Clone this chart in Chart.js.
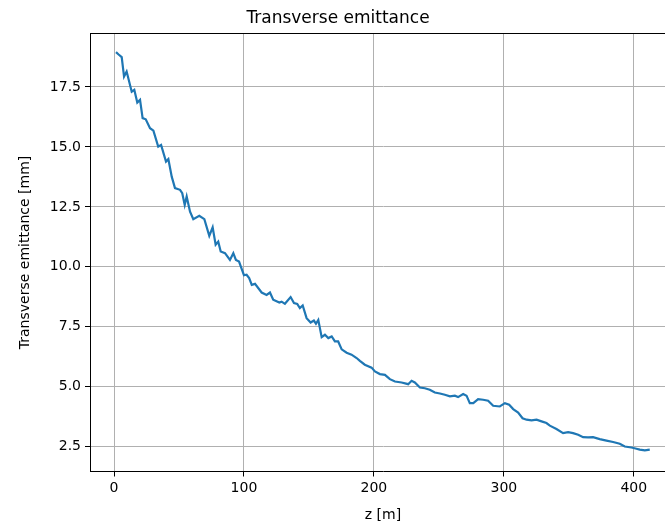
<!DOCTYPE html>
<html><head><meta charset="utf-8">
<script src="https://cdn.jsdelivr.net/npm/chart.js@4/dist/chart.umd.min.js"></script>
<style>html,body{margin:0;padding:0;overflow:hidden;background:#fff;width:665px;height:524px}
#wrap{width:700px;height:524px}</style></head>
<body><div id="wrap"><canvas id="c" width="700" height="524"></canvas></div>
<script>
const zPositions = [1.5,3.3,5.9,7.7,9.7,13.6,15.6,17.9,20,22,24.4,27.7,30.3,34,36.2,40,41.8,44.4,46.9,50.8,52.5,54.4,55.9,58.5,61,65.6,69.5,73.3,75.9,78.2,80.2,82.1,85.4,89.2,91.8,93.8,96.2,99,100,102,104,106,108.5,113.6,117.4,120,122.5,127.2,129,131.5,135.9,138.5,141,143,145.2,148.2,151.3,153.8,155.4,157.2,159.8,162.3,164.9,167.5,170,172.5,175.2,179,182.8,186.7,189.2,193,198.2,200.8,204.6,208.5,212.3,216.2,221.3,226.4,229,231.5,235.4,239.2,243,246.9,250.8,254.6,258.5,262.3,264.8,268.7,271.3,273.8,276.5,280.2,284.1,287.9,291.8,296.9,300.8,304.1,307.2,311,314.4,317.5,321.3,325.2,329,332.8,335.4,340.5,345.6,349.5,353.3,357.2,361,364.8,368.7,373.8,379,384.1,389.2,393.1,398.2,402.1,404.6,408.5,412.3];
const emittance = [18.95,18.86,18.74,17.93,18.14,17.3,17.38,16.85,16.96,16.2,16.15,15.78,15.68,15.01,15.08,14.39,14.49,13.76,13.28,13.21,13.07,12.58,12.93,12.3,11.99,12.13,11.99,11.29,11.65,10.92,11.05,10.64,10.57,10.29,10.57,10.29,10.22,9.8,9.65,9.67,9.53,9.25,9.29,8.93,8.83,8.93,8.63,8.51,8.55,8.46,8.74,8.49,8.45,8.28,8.39,7.86,7.68,7.76,7.63,7.79,7.07,7.17,7.03,7.1,6.89,6.89,6.56,6.42,6.34,6.2,6.08,5.92,5.8,5.64,5.53,5.5,5.32,5.22,5.18,5.11,5.25,5.18,4.97,4.94,4.88,4.76,4.72,4.67,4.6,4.63,4.57,4.7,4.63,4.32,4.32,4.49,4.46,4.42,4.21,4.18,4.32,4.25,4.07,3.93,3.69,3.63,3.6,3.63,3.56,3.49,3.38,3.24,3.07,3.11,3.07,3.0,2.9,2.89,2.9,2.82,2.76,2.7,2.63,2.51,2.47,2.42,2.38,2.35,2.38];
const xTicks = [0,100,200,300,400];
const yTicks = [2.5,5.0,7.5,10.0,12.5,15.0,17.5];

const points = zPositions.map((z,i)=>({x:z,y:emittance[i]}));
const FONT = "'DejaVu Sans', sans-serif";

const topSpine = {
  id:'topSpine',
  afterDraw(chart){
    const {ctx, chartArea:a} = chart;
    ctx.save();
    ctx.strokeStyle = '#000';
    ctx.lineWidth = 1;
    ctx.beginPath();
    ctx.moveTo(a.left, Math.round(a.top)+0.5);
    ctx.lineTo(a.right, Math.round(a.top)+0.5);
    ctx.moveTo(Math.round(a.right)+0.5, a.top);
    ctx.lineTo(Math.round(a.right)+0.5, a.bottom);
    ctx.stroke();
    ctx.restore();
  }
};

new Chart(document.getElementById('c'), {
  type:'line',
  data:{datasets:[{data:points, borderColor:'#1f77b4', borderWidth:2.2, pointRadius:0, tension:0, fill:false}]},
  options:{
    responsive:false, animation:false, devicePixelRatio:1,
    layout:{padding:{left:0,right:24,top:0,bottom:0}},
    plugins:{
      legend:{display:false}, tooltip:{enabled:false},
      title:{display:true, text:'Transverse emittance', color:'#000', font:{family:FONT,size:17,weight:'normal'}, padding:{top:8,bottom:5}}
    },
    scales:{
      x:{type:'linear', min:-18.5, max:432.5,
        afterBuildTicks:s=>{s.ticks = xTicks.map(v=>({value:v}));},
        afterFit:s=>{s.height = 52.5;},
        ticks:{color:'#000', font:{family:FONT,size:14}, padding:3, maxRotation:0, autoSkip:false, callback:v=>String(v)},
        grid:{color:'#b0b0b0', lineWidth:1, tickColor:'#000', tickLength:5},
        border:{color:'#000', width:1},
        title:{display:true, text:'z [m]', color:'#000', font:{family:FONT,size:14}, padding:{top:0,bottom:0}}
      },
      y:{type:'linear', min:1.47, max:19.73,
        afterBuildTicks:s=>{s.ticks = yTicks.map(v=>({value:v}));},
        afterFit:s=>{s.width = 90;},
        ticks:{color:'#000', font:{family:FONT,size:14}, padding:4, autoSkip:false, callback:v=>Number(v).toFixed(1)},
        grid:{color:'#b0b0b0', lineWidth:1, tickColor:'#000', tickLength:5},
        border:{color:'#000', width:1},
        title:{display:true, text:'Transverse emittance [mm]', color:'#000', font:{family:FONT,size:14}, padding:{top:17,bottom:0}}
      }
    }
  },
  plugins:[topSpine]
});
</script>
</body></html>
